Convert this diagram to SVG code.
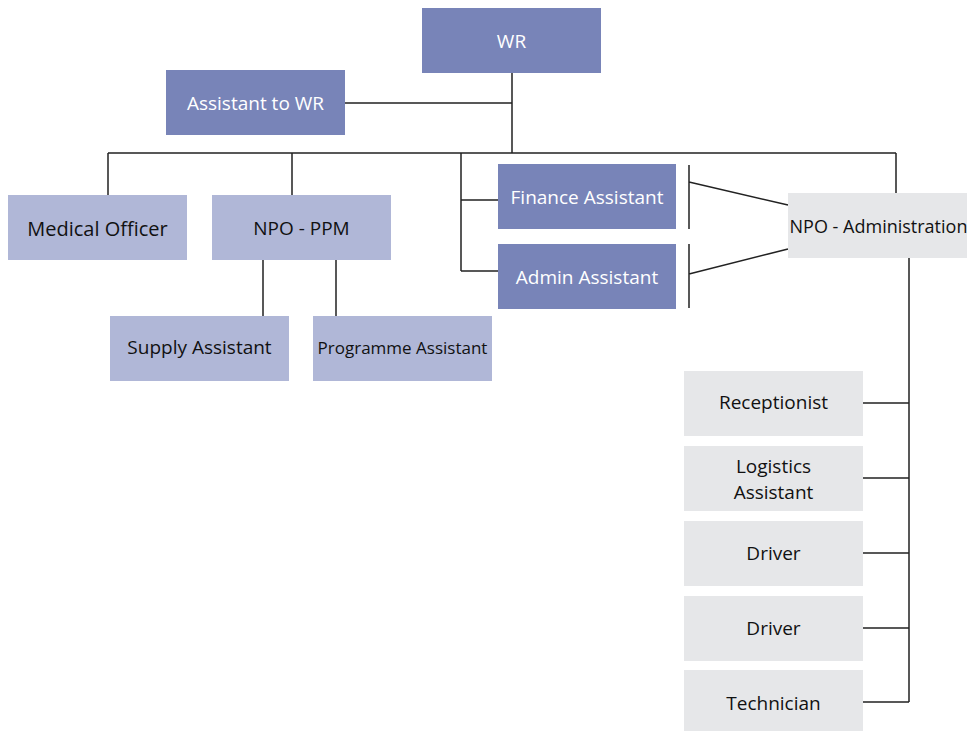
<svg xmlns="http://www.w3.org/2000/svg" width="974" height="731" viewBox="0 0 974 731">
<style>
.dk{fill:#7884b8}
.lt{fill:#b0b7d7}
.gr{fill:#e6e7e9}
text{font-family:"Open Sans","Liberation Sans",sans-serif;font-size:19px;text-anchor:middle;dominant-baseline:central}
.w{fill:#ffffff}
.b{fill:#111111}
#connectors{stroke:#222;stroke-width:1.5;fill:none}
</style>
<rect width="974" height="731" fill="#ffffff"/>
<g id="connectors">
<path d="M512 73V153M345 103H512M108 153H896M108 153V195M292 153V195M461 153V271M461 200H498M461 271H498M896 153V193"/>
<path d="M263 260V316M336 260V316"/>
<path d="M689 165V229M689 244V308M689 182L788 205M689 274L788 249"/>
<path d="M909 258V702M863 403H909M863 478H909M863 553H909M863 628H909M863 702H909"/>
</g>
<g id="wr"><rect class="dk" x="422" y="8" width="179" height="65"/><text class="w" x="511.5" y="41">WR</text></g>
<g id="assistant-wr"><rect class="dk" x="166" y="70" width="179" height="65"/><text class="w" x="255.5" y="103">Assistant to WR</text></g>
<g id="medical"><rect class="lt" x="8" y="195" width="179" height="65"/><text class="b" x="97.5" y="228" style="font-size:20px">Medical Officer</text></g>
<g id="npo-ppm"><rect class="lt" x="212" y="195" width="179" height="65"/><text class="b" x="301.5" y="228">NPO - PPM</text></g>
<g id="supply"><rect class="lt" x="110" y="316" width="179" height="65"/><text class="b" x="199.5" y="347">Supply Assistant</text></g>
<g id="programme"><rect class="lt" x="313" y="316" width="179" height="65"/><text class="b" x="402.5" y="347" style="font-size:17px">Programme Assistant</text></g>
<g id="finance"><rect class="dk" x="498" y="164" width="178" height="65"/><text class="w" x="587" y="197">Finance Assistant</text></g>
<g id="admin"><rect class="dk" x="498" y="244" width="178" height="65"/><text class="w" x="587" y="277">Admin Assistant</text></g>
<g id="npo-admin"><rect class="gr" x="788" y="193" width="179" height="65"/><text class="b" x="878.5" y="226" style="font-size:18px">NPO - Administration</text></g>
<g id="receptionist"><rect class="gr" x="684" y="371" width="179" height="65"/><text class="b" x="773.5" y="402">Receptionist</text></g>
<g id="logistics"><rect class="gr" x="684" y="446" width="179" height="65"/><text class="b" x="773.5" y="466">Logistics</text><text class="b" x="773.5" y="492">Assistant</text></g>
<g id="driver1"><rect class="gr" x="684" y="521" width="179" height="65"/><text class="b" x="773.5" y="553">Driver</text></g>
<g id="driver2"><rect class="gr" x="684" y="596" width="179" height="65"/><text class="b" x="773.5" y="628">Driver</text></g>
<g id="technician"><rect class="gr" x="684" y="670" width="179" height="65"/><text class="b" x="773.5" y="703">Technician</text></g>
</svg>
